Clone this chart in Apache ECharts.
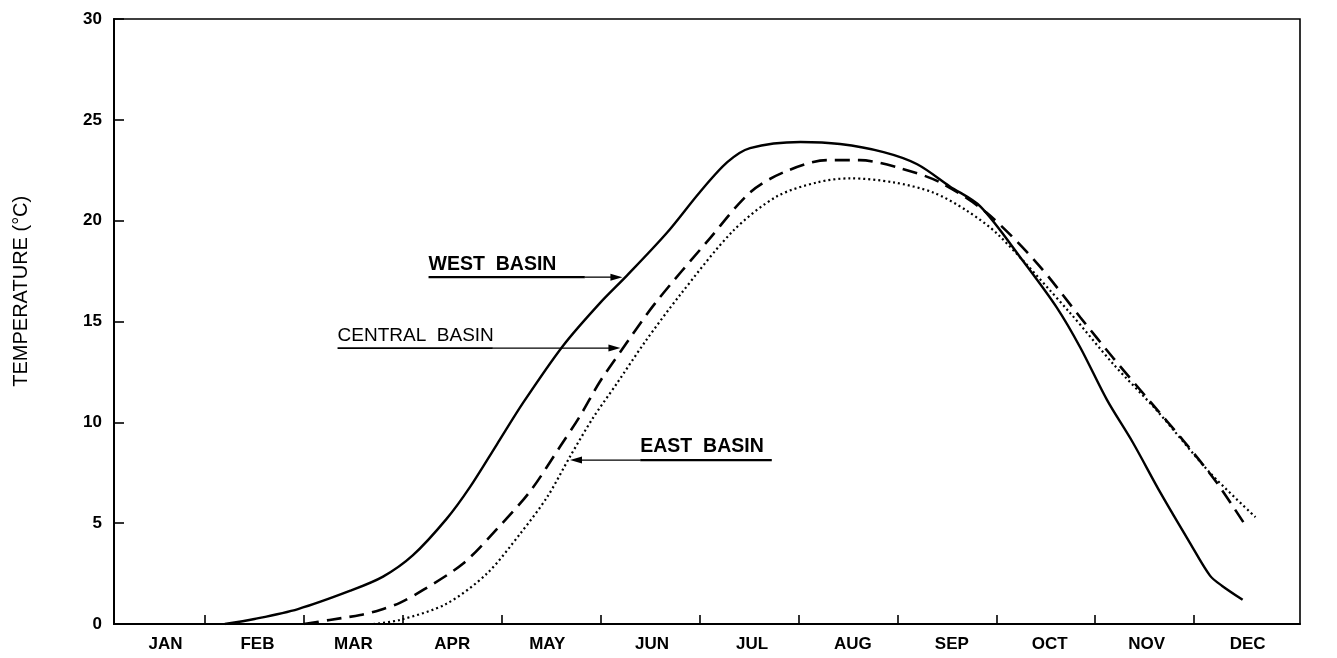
<!DOCTYPE html>
<html>
<head>
<meta charset="utf-8">
<script src="https://cdn.jsdelivr.net/npm/echarts@6/dist/echarts.min.js"></script>
<style>
html,body{margin:0;padding:0;background:#fff;}
#c{width:1337px;height:658px;}
</style>
</head>
<body>
<div id="c"></div>
<script>
// ---- data (x = month position, 1 = end of JAN; y = temperature in °C) ----
const months = ['JAN','FEB','MAR','APR','MAY','JUN','JUL','AUG','SEP','OCT','NOV','DEC'];
const monthLabelPos = [0.6,1.53,2.5,3.5,4.46,5.52,6.53,7.55,8.55,9.54,10.52,11.54];
const monthTicks = [1,2,3,4,5,6,7,8,9,10,11];
const yTicks = [0,5,10,15,20,25,30];

const westBasin = [[1.2,0],[1.5,0.25],[1.94,0.74],[2.47,1.65],[2.8,2.35],[3.1,3.4],[3.44,5.2],[3.68,6.8],
  [3.95,8.9],[4.22,11.0],[4.62,13.8],[4.99,15.9],[5.27,17.3],[5.67,19.4],[6.0,21.4],[6.28,22.9],[6.51,23.6],
  [7.02,23.9],[7.42,23.8],[7.86,23.4],[8.2,22.8],[8.53,21.7],[8.84,20.7],[9.27,18.0],[9.61,15.7],[9.85,13.7],
  [10.12,11.1],[10.38,9.0],[10.66,6.5],[10.96,4.0],[11.16,2.4],[11.28,1.9],[11.49,1.2]];

const centralBasin = [[2.0,0],[2.26,0.2],[2.57,0.45],[2.77,0.7],[2.97,1.05],[3.21,1.7],[3.61,3.0],[3.95,4.7],
  [4.29,6.6],[4.59,8.8],[4.79,10.3],[4.99,12.0],[5.2,13.5],[5.55,15.9],[6.1,19.1],[6.51,21.4],[6.85,22.4],
  [7.29,23.0],[7.62,23.0],[8.03,22.6],[8.43,21.9],[8.9,20.4],[9.41,17.9],[9.85,15.2],[10.18,13.2],
  [10.56,11.0],[10.89,9.1],[11.23,7.0],[11.53,4.8]];

const eastBasin = [[2.7,0],[2.97,0.2],[3.44,1.0],[3.85,2.5],[4.19,4.5],[4.46,6.3],[4.69,8.3],[4.92,10.2],
  [5.16,11.9],[5.45,14.0],[5.8,16.3],[6.34,19.5],[6.78,21.2],[7.19,21.9],[7.52,22.1],[7.96,21.9],[8.36,21.4],
  [8.7,20.5],[9.02,19.3],[9.75,15.4],[10.18,12.9],[10.62,10.6],[11.16,7.5],[11.62,5.3]];

// ---- chart ----
const chart = echarts.init(document.getElementById('c'), null, {renderer:'canvas'});
const FONT = '"Liberation Sans", Arial, Helvetica, sans-serif';

function lineSeries(name, data, type, width) {
  return {
    name, type:'line', data, symbol:'none', smooth:0.3,
    lineStyle:{color:'#000', width:width, type:type, cap:'butt'},
    z:3, silent:true
  };
}

chart.setOption({
  animation:false,
  backgroundColor:'#fff',
  grid:{left:114, right:37, top:19, bottom:34, show:true, borderColor:'#000', borderWidth:1.6, backgroundColor:'transparent', containLabel:false, outerBoundsMode:'none'},
  xAxis:{
    type:'value', min:0.08, max:12.07,
    axisLine:{show:true, lineStyle:{color:'#000', width:2}},
    axisTick:{show:true, inside:true, length:9, customValues:monthTicks, lineStyle:{color:'#000', width:1.6}},
    axisLabel:{
      show:true, customValues:monthLabelPos, margin:12,
      color:'#000', fontFamily:FONT, fontWeight:'bold', fontSize:17,
      formatter:function(v){
        let best=0, d=1e9;
        monthLabelPos.forEach((p,i)=>{ if(Math.abs(p-v)<d){d=Math.abs(p-v);best=i;} });
        return months[best];
      }
    },
    splitLine:{show:false}
  },
  yAxis:{
    type:'value', min:0, max:30, interval:5,
    axisLine:{show:true, lineStyle:{color:'#000', width:2}},
    axisTick:{show:true, inside:true, length:10, lineStyle:{color:'#000', width:1.6}},
    axisLabel:{show:true, margin:12, color:'#000', fontFamily:FONT, fontWeight:'bold', fontSize:17,
      customValues:yTicks},
    splitLine:{show:false}
  },
  series:[
    lineSeries('WEST BASIN', westBasin, 'solid', 2.4),
    lineSeries('CENTRAL BASIN', centralBasin, [15,8], 2.6),
    lineSeries('EAST BASIN', eastBasin, [2,3], 2.2)
  ]
});

// ---- annotations anchored in data space ----
function px(k,t){ return chart.convertToPixel({gridIndex:0},[k,t]); }
function arrowHead(tip, dir) { // dir: +1 pointing right, -1 pointing left
  const L=12, W=3.5;
  return {type:'polygon', shape:{points:[[tip[0],tip[1]],[tip[0]-dir*L,tip[1]-W],[tip[0]-dir*L,tip[1]+W]]},
    style:{fill:'#000'}, z:10};
}
function seg(a,b,w){ return {type:'line', shape:{x1:a[0],y1:a[1],x2:b[0],y2:b[1]}, style:{stroke:'#000', lineWidth:w}, z:10}; }
function txt(s,p,weight,size){ return {type:'text', x:p[0], y:p[1]-3, z:10,
  style:{text:s, fill:'#000', font:weight+' '+size+'px '+FONT, textAlign:'left', textVerticalAlign:'bottom'}}; }

const g = [];
// Y axis title
const yMid = px(0.08, 16.5);
g.push({type:'text', x:21, y:yMid[1], rotation:Math.PI/2, z:10,
  style:{text:'TEMPERATURE (°C)', fill:'#000', font:'normal 20px '+FONT, textAlign:'center', textVerticalAlign:'middle'}});
// West
const wT = 17.2;
const w0 = px(3.26,wT), w1 = px(4.84,wT), wTip = px(5.22,wT);
g.push(txt('WEST  BASIN', w0, 'bold', 19.5));
g.push(seg(w0,w1,2.2)); g.push(seg(w1,[wTip[0]-10,wTip[1]],1.3)); g.push(arrowHead(wTip,1));
// Central
const cT = 13.68;
const c0 = px(2.34,cT), c1 = px(3.91,cT), cTip = px(5.2,cT);
g.push(txt('CENTRAL  BASIN', c0, 'normal', 19));
g.push(seg(c0,c1,1.8)); g.push(seg(c1,[cTip[0]-10,cTip[1]],1.3)); g.push(arrowHead(cTip,1));
// East
const eT = 8.13;
const eTip = px(4.69,eT), e0 = px(5.4,eT), e1 = px(6.73,eT);
g.push(txt('EAST  BASIN', e0, 'bold', 19.5));
g.push(seg(e0,e1,2.2)); g.push(seg([eTip[0]+10,eTip[1]],e0,1.3)); g.push(arrowHead(eTip,-1));

chart.setOption({graphic:{elements:g}});
</script>
</body>
</html>
